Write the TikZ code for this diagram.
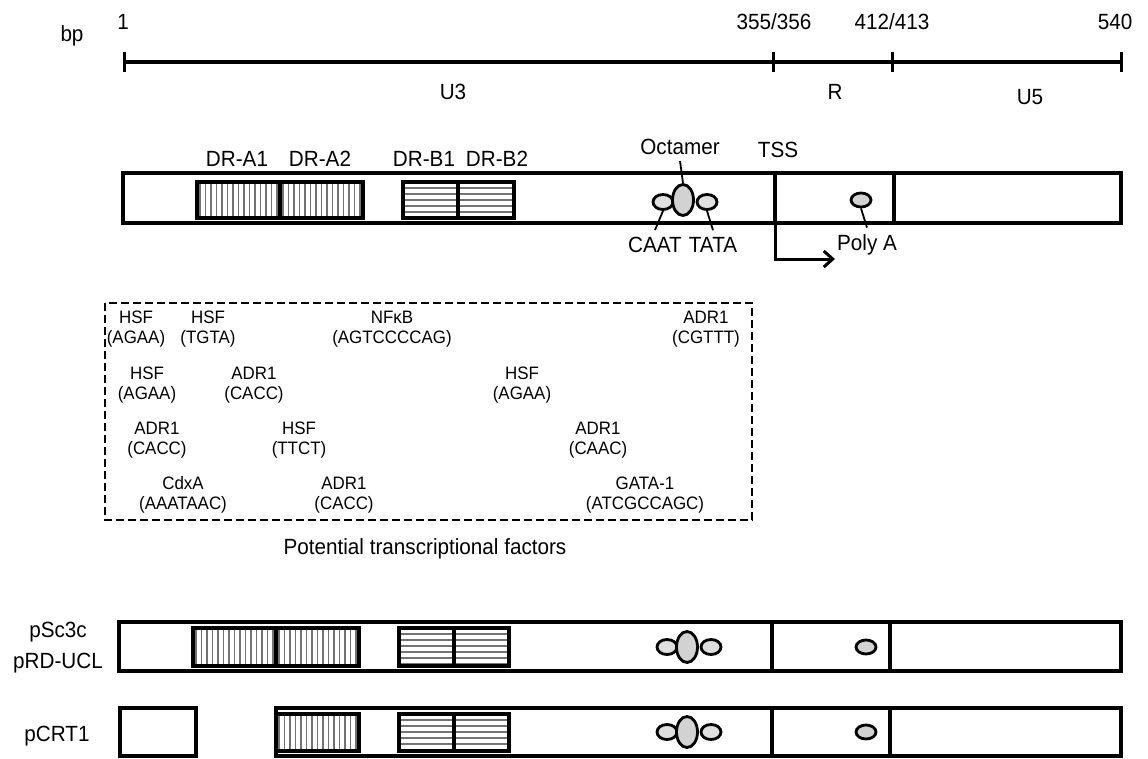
\documentclass[tikz,border=0pt]{standalone}
\usepackage{fontspec}
\setmainfont{Liberation Sans}[FakeStretch=0.94]
\usetikzlibrary{positioning,shapes.geometric,arrows.meta}

% hatched repeat blocks: vertical (DR-A) and horizontal (DR-B)
\newcommand{\drvert}[4]{%
  \begin{scope}
    \clip (#1,#2) rectangle (#3,#4);
    \foreach \hx in {3,8.5,...,90} \draw[hatch] ({#1+\hx},#2) -- ({#1+\hx},#4);
  \end{scope}
  \draw[drbox] (#1,#2) rectangle (#3,#4);}
\newcommand{\drhorz}[4]{%
  \begin{scope}
    \clip (#1,#2) rectangle (#3,#4);
    \foreach \hy in {6,12,...,36} \draw[hatch] (#1,{#2+\hy}) -- (#3,{#2+\hy});
  \end{scope}
  \draw[drbox] (#1,#2) rectangle (#3,#4);}

\begin{document}
\begin{tikzpicture}[x=1pt,y=-1pt,
  lbl/.style={font=\fontsize{22}{24}\selectfont,inner sep=1pt},
  tf/.style={font=\fontsize{18}{20}\selectfont,align=center,inner sep=0pt},
  frame/.style={draw,line width=3.4pt},
  drbox/.style={draw,line width=3.2pt},
  hatch/.style={line width=1.6pt,color=black!55},
  oval/.style={ellipse,draw,line width=2.8pt,fill=gray!25,inner sep=0pt,minimum width=20,minimum height=15},
  octa/.style={ellipse,draw,line width=2.8pt,fill=gray!35,inner sep=0pt,minimum width=21,minimum height=31},
  polya/.style={ellipse,draw,line width=2.8pt,fill=gray!35,inner sep=0pt,minimum width=20,minimum height=14},
  lead/.style={line width=1.8pt},
  tss/.style={line width=3pt,-{Straight Barb[length=9pt,width=16pt]}}
]
\useasboundingbox (0,0) rectangle (1148,758);

% scale bar
\coordinate (s1) at (124,62);
\coordinate (s355) at (773,62);
\coordinate (s412) at (892,62);
\coordinate (s540) at (1121,62);
\draw[line width=3.2pt] (s1) -- (s540);
\foreach \c in {s1,s355,s412,s540}
  \draw[line width=3pt] ([yshift=10pt]\c) -- ([yshift=-10pt]\c);
\node[lbl] (bp) at (72,36) {bp};
\node[lbl] (n1) at (123,22) {1};
\node[lbl] (n355) at (774,22) {355/356};
\node[lbl] (n412) at (892,22) {412/413};
\node[lbl] (n540) at (1115,22) {540};
\node[lbl] (u3) at (453,92) {U3};
\node[lbl] (r) at (835,92) {R};
\node[lbl] (u5) at (1030,97) {U5};

% LTR map
\draw[frame] (123,173) rectangle (1121,223);
\draw[frame] (775,173) -- (775,223);
\draw[frame] (894,173) -- (894,223);
\drvert{197}{182}{280}{218}
\drvert{280}{182}{363}{218}
\drhorz{403}{182}{458}{218}
\drhorz{458}{182}{514}{218}
\node[lbl] (dra1) at (237,159) {DR-A1};
\node[lbl] (dra2) at (320,159) {DR-A2};
\node[lbl] (drb1) at (424,159) {DR-B1};
\node[lbl] (drb2) at (497,159) {DR-B2};
\node[oval] (caat) at (663,202) {};
\node[octa] (oct) at (683,200) {};
\node[oval] (tata) at (707,202) {};
\node[polya] (polya) at (861,200) {};
\node[lbl] (octl) at (680,147) {Octamer};
\node[lbl] (tssl) at (778,150) {TSS};
\node[lbl] (caatl) at (655,245) {CAAT};
\node[lbl] (tatal) at (713,245) {TATA};
\node[lbl] (polyal) at (867,245) {Poly A};
\draw[lead] (oct.north) -- ([yshift=-5pt]octl.south);
\draw[lead] (caat.south) -- ([yshift=6pt]caatl.north);
\draw[lead] (tata.south) -- ([yshift=6pt]tatal.north);
\draw[lead] (polya.south) -- ([yshift=6pt]polyal.north);
\coordinate (tssbase) at (775,223);
\coordinate (tsstip) at (835,259);
\draw[tss] (tssbase) |- (tsstip);

% transcription factor sites
\draw[line width=2.6pt,dash pattern=on 8pt off 4pt] (105,303) rectangle (752,520);
\node[tf] (hsf1) at (136,329) {HSF\\(AGAA)};
\node[tf] (hsf2) at (208,329) {HSF\\(TGTA)};
\node[tf] (nfkb) at (392,329) {NFκB\\(AGTCCCCAG)};
\node[tf] (adr1) at (706,329) {ADR1\\(CGTTT)};
\node[tf] (hsf3) at (147,385) {HSF\\(AGAA)};
\node[tf] (adr2) at (254,385) {ADR1\\(CACC)};
\node[tf] (hsf4) at (522,385) {HSF\\(AGAA)};
\node[tf] (adr3) at (157,440) {ADR1\\(CACC)};
\node[tf] (hsf5) at (299,440) {HSF\\(TTCT)};
\node[tf] (adr4) at (598,440) {ADR1\\(CAAC)};
\node[tf] (cdxa) at (183,495) {CdxA\\(AAATAAC)};
\node[tf] (adr5) at (344,495) {ADR1\\(CACC)};
\node[tf] (gata) at (645,495) {GATA-1\\(ATCGCCAGC)};
\node[lbl] (ptf) at (425,549) {Potential transcriptional factors};

% vectors
\node[lbl] (psc) at (58,632) {pSc3c};
\node[lbl] (prd) at (58,663) {pRD-UCL};
\node[lbl] (pcrt) at (57,736) {pCRT1};
\draw[frame] (119,622) rectangle (1121,671);
\draw[frame] (120,708) rectangle (196,756);
\draw[frame] (276,708) rectangle (1121,756);
\foreach \ty/\by in {622/671,708/756} {
  \draw[frame] (772,\ty) -- (772,\by);
  \draw[frame] (890,\ty) -- (890,\by);
}
\drvert{193}{628}{276}{666}
\drvert{276}{628}{359}{666}
\drhorz{399}{628}{454}{666}
\drhorz{454}{628}{509}{666}
\drvert{276}{714}{359}{751}
\drhorz{399}{714}{454}{751}
\drhorz{454}{714}{509}{751}
\foreach \ry/\nm in {647/a,732/b} {
  \node[oval] (caat\nm) at (667,\ry) {};
  \node[octa] (oct\nm) at (687,\ry) {};
  \node[oval] (tata\nm) at (711,\ry) {};
  \node[polya] (polya\nm) at (866,\ry) {};
}
\end{tikzpicture}
\end{document}
